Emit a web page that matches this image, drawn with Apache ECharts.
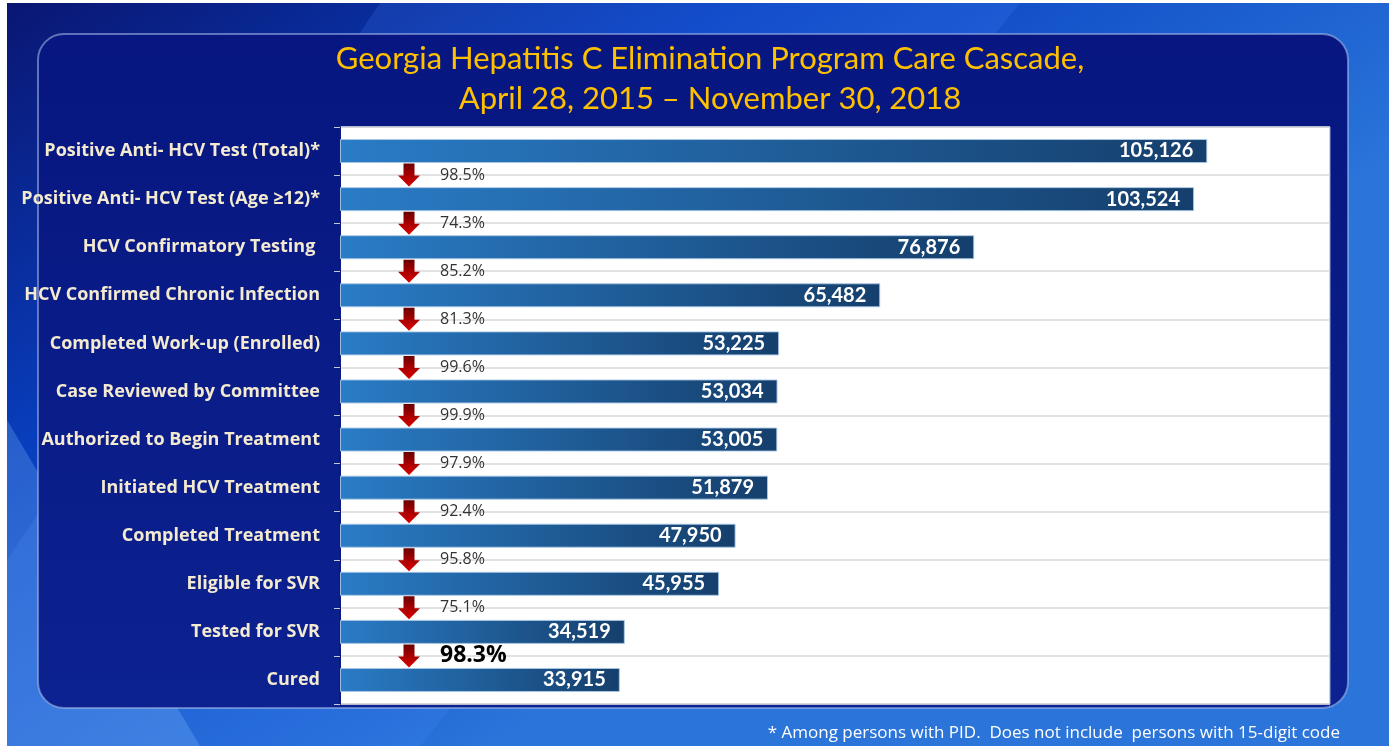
<!DOCTYPE html>
<html>
<head>
<meta charset="utf-8">
<title>Georgia Hepatitis C Elimination Program Care Cascade</title>
<script src="https://cdn.jsdelivr.net/npm/echarts@6/dist/echarts.min.js"></script>
<style>
  html, body { margin: 0; padding: 0; background: #fff; }
  #chart { width: 1394px; height: 746px; }
</style>
</head>
<body>
<div id="chart"></div>
<script>
// care cascade stages, top to bottom
const stages = [
  'Positive Anti- HCV Test (Total)*',
  'Positive Anti- HCV Test (Age \u226512)*',
  'HCV Confirmatory Testing ',
  'HCV Confirmed Chronic Infection',
  'Completed Work-up (Enrolled)',
  'Case Reviewed by Committee',
  'Authorized to Begin Treatment',
  'Initiated HCV Treatment',
  'Completed Treatment',
  'Eligible for SVR',
  'Tested for SVR',
  'Cured'
];
const counts = [105126, 103524, 76876, 65482, 53225, 53034, 53005, 51879, 47950, 45955, 34519, 33915];
// percent retained from one stage to the next
const stepRates = [98.5, 74.3, 85.2, 81.3, 99.6, 99.9, 97.9, 92.4, 95.8, 75.1, 98.3];

const titleText = 'Georgia Hepatitis C Elimination Program Care Cascade,\nApril 28, 2015 \u2013 November 30, 2018';
const footnote = '* Among persons with PID.  Does not include  persons with 15-digit code';

const FONT = 'Lato, "Open Sans", sans-serif';
const FONT_WIDE = '"Open Sans", Lato, sans-serif';

const chart = echarts.init(document.getElementById('chart'));

// background pieces (slide look)
const bgElements = [
  {
    type: 'rect', z: -30, silent: true,
    shape: { x: 7, y: 3, width: 1382, height: 743 },
    style: {
      fill: new echarts.graphic.LinearGradient(0, 0, 0.35, 1, [
        { offset: 0, color: '#0a1672' },
        { offset: 0.45, color: '#0840c0' },
        { offset: 1, color: '#2a74da' }
      ])
    }
  },
  {
    type: 'polygon', z: -29, silent: true,
    shape: { points: [[380, 3], [1020, 3], [420, 746], [7, 746], [7, 560]] },
    style: { fill: 'rgba(70,140,255,0.18)' }
  },
  {
    type: 'polygon', z: -29, silent: true,
    shape: { points: [[7, 420], [200, 746], [7, 746]] },
    style: { fill: 'rgba(140,200,255,0.25)' }
  },
  {
    type: 'rect', z: -20, silent: true,
    shape: { x: 38, y: 34, width: 1310, height: 674, r: 26 },
    style: {
      fill: new echarts.graphic.LinearGradient(0, 0, 0, 1, [
        { offset: 0, color: '#071680' },
        { offset: 1, color: '#0c2290' }
      ]),
      stroke: 'rgba(170,190,235,0.55)',
      lineWidth: 2
    }
  },
  {
    type: 'text', z: 10, silent: true,
    style: {
      x: 1340, y: 733, text: footnote, align: 'right', verticalAlign: 'middle',
      fill: '#ffffff', font: '17px ' + FONT_WIDE
    }
  }
];

// red down arrow + percent between two bars
function renderStep(params, api) {
  const pt = api.coord([api.value(0), api.value(1)]);
  const cx = pt[0] + 69;
  const cy = pt[1];
  const t = cy - 11.5;
  const last = params.dataIndex === stepRates.length - 1;
  return {
    type: 'group',
    children: [
      {
        type: 'polygon',
        shape: {
          points: [
            [cx - 5.5, t], [cx + 5.5, t], [cx + 5.5, t + 12], [cx + 11, t + 12],
            [cx, t + 23], [cx - 11, t + 12], [cx - 5.5, t + 12]
          ]
        },
        style: {
          fill: new echarts.graphic.LinearGradient(0, 0, 0, 1, [
            { offset: 0, color: '#6a0000' },
            { offset: 0.5, color: '#a80000' },
            { offset: 1, color: '#d80000' }
          ])
        }
      },
      {
        type: 'text',
        style: {
          x: cx + 31, y: cy, text: api.value(2).toFixed(1) + '%',
          align: 'left', verticalAlign: 'middle',
          fill: last ? '#000' : '#333',
          font: last ? 'bold 23px ' + FONT_WIDE : '16px ' + FONT_WIDE
        }
      }
    ]
  };
}

const option = {
  backgroundColor: '#fff',
  animation: false,
  title: {
    text: titleText,
    left: 705,
    top: 34,
    textAlign: 'center',
    textStyle: {
      color: '#ffc000',
      fontFamily: FONT,
      fontWeight: 'normal',
      fontSize: 31,
      lineHeight: 40
    }
  },
  graphic: bgElements,
  grid: {
    left: 340,
    top: 127,
    width: 990,
    height: 577,
    show: true,
    backgroundColor: '#ffffff',
    borderColor: '#8fa8c8',
    borderWidth: 1
  },
  xAxis: {
    type: 'value',
    min: 0,
    max: 120000,
    show: false
  },
  yAxis: [
    {
      type: 'category',
      data: stages,
      inverse: true,
      axisLine: { show: true, lineStyle: { color: '#0a1a80', width: 2 } },
      axisTick: { show: true, length: 6, lineStyle: { color: '#c8c8c8' } },
      splitLine: { show: true, lineStyle: { color: '#d9d9d9', width: 1.5 } },
      axisLabel: {
        color: '#f3ead0',
        fontFamily: FONT_WIDE,
        fontWeight: 'bold',
        fontSize: 18,
        margin: 20
      }
    },
    {
      type: 'value',
      min: -0.5,
      max: 11.5,
      inverse: true,
      show: false
    }
  ],
  series: [
    {
      type: 'bar',
      data: counts,
      barWidth: 24,
      itemStyle: {
        color: new echarts.graphic.LinearGradient(0, 0, 1, 0, [
          { offset: 0, color: '#2a7cc6' },
          { offset: 1, color: '#153f6c' }
        ]),
        borderColor: 'rgba(170,200,230,0.9)',
        borderWidth: 1
      },
      label: {
        show: true,
        position: 'insideRight',
        distance: 14,
        color: '#ffffff',
        fontFamily: FONT,
        fontWeight: 'bold',
        fontSize: 20,
        formatter: p => p.value.toLocaleString('en-US')
      }
    },
    {
      type: 'custom',
      xAxisIndex: 0,
      yAxisIndex: 1,
      data: stepRates.map((r, i) => [0, i + 0.5, r]),
      renderItem: renderStep,
      z: 5
    }
  ]
};

chart.setOption(option);
</script>
</body>
</html>
